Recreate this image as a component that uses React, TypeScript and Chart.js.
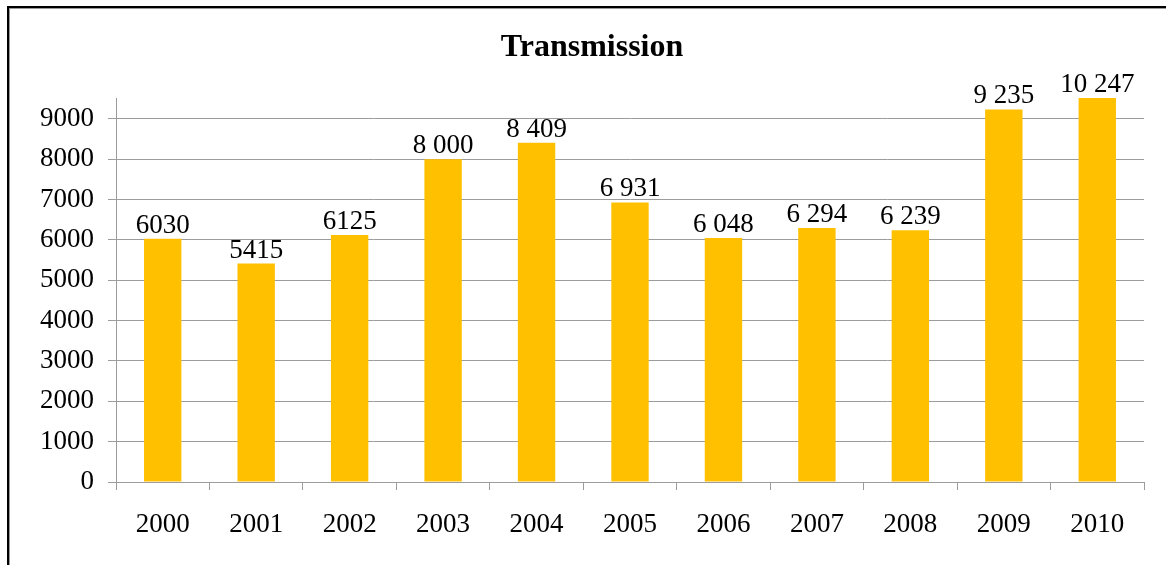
import React, { useEffect, useRef } from "react";
import { Chart, registerables } from "chart.js";

Chart.register(...registerables);

const categories = ["2000", "2001", "2002", "2003", "2004", "2005", "2006", "2007", "2008", "2009", "2010"];
const values = [6030, 5415, 6125, 8000, 8409, 6931, 6048, 6294, 6239, 9235, 10247];
const valueLabels = ["6030", "5415", "6125", "8 000", "8 409", "6 931", "6 048", "6 294", "6 239", "9 235", "10 247"];
const yTicks = [0, 1000, 2000, 3000, 4000, 5000, 6000, 7000, 8000, 9000];
const yMax = 9520;
const titleText = "Transmission";

const FONT = "'Liberation Serif', 'Times New Roman', serif";
const GRID = "#9c9c9c";

const labelPlugin = {
  id: "valueLabels",
  afterDatasetsDraw(chart: any) {
    const ctx = chart.ctx;
    const meta = chart.getDatasetMeta(0);
    const top = chart.chartArea.top;
    ctx.save();
    ctx.fillStyle = "#000";
    ctx.font = `27px ${FONT}`;
    ctx.textAlign = "center";
    ctx.textBaseline = "alphabetic";
    meta.data.forEach((bar: any, i: number) => {
      const y = Math.max(bar.y, top);
      ctx.fillText(valueLabels[i], bar.x, y - 6);
    });
    ctx.restore();
  },
};

export default function App() {
  const ref = useRef<HTMLCanvasElement>(null);
  useEffect(() => {
    if (!ref.current) return;
    const chart = new Chart(ref.current, {
      type: "bar",
      data: {
        labels: categories,
        datasets: [
          {
            data: values,
            backgroundColor: "#FFC000",
            borderWidth: 0,
            barPercentage: 0.4,
            categoryPercentage: 1,
          },
        ],
      },
      options: {
        animation: false,
        responsive: false,
        layout: { padding: { left: 40, right: 22, top: 0, bottom: 0 } },
        plugins: {
          legend: { display: false },
          tooltip: { enabled: false },
          title: {
            display: true,
            text: titleText,
            color: "#000",
            font: { family: FONT, size: 32, weight: "bold", lineHeight: 1.2 },
            padding: { top: 29, bottom: 30.6 },
          },
        },
        scales: {
          x: {
            offset: true,
            grid: { drawOnChartArea: false, drawTicks: true, tickLength: 8, color: GRID, offset: true },
            border: { display: true, color: GRID },
            ticks: { color: "#000", font: { family: FONT, size: 27 }, padding: 19, maxRotation: 0 },
            afterFit(scale: any) {
              scale.height = 83;
            },
          },
          y: {
            min: 0,
            max: yMax,
            grid: { color: GRID, drawTicks: true, tickLength: 8 },
            border: { display: true, color: GRID },
            ticks: {
              color: "#000",
              font: { family: FONT, size: 27 },
              padding: 14,
              callback: (v: any) => String(v),
            },
            afterBuildTicks(scale: any) {
              scale.ticks = yTicks.map((v) => ({ value: v }));
            },
            afterFit(scale: any) {
              scale.width = 76;
            },
          },
        },
      },
      plugins: [labelPlugin],
    });
    return () => chart.destroy();
  }, []);

  return (
    <div style={{ position: "fixed", left: 0, top: 0, width: 1166, height: 565, overflow: "hidden", background: "#fff" }}>
      <div
        style={{
          position: "absolute",
          left: 7,
          top: 6,
          width: 1200,
          height: 600,
          border: "2px solid #000",
        }}
      >
        <div style={{ position: "absolute", left: 0, top: 0, right: 0, bottom: 0, border: "1px solid #999" }} />
      </div>
      <canvas ref={ref} width={1166} height={565} style={{ position: "absolute", left: 0, top: 0 }} />
    </div>
  );
}
